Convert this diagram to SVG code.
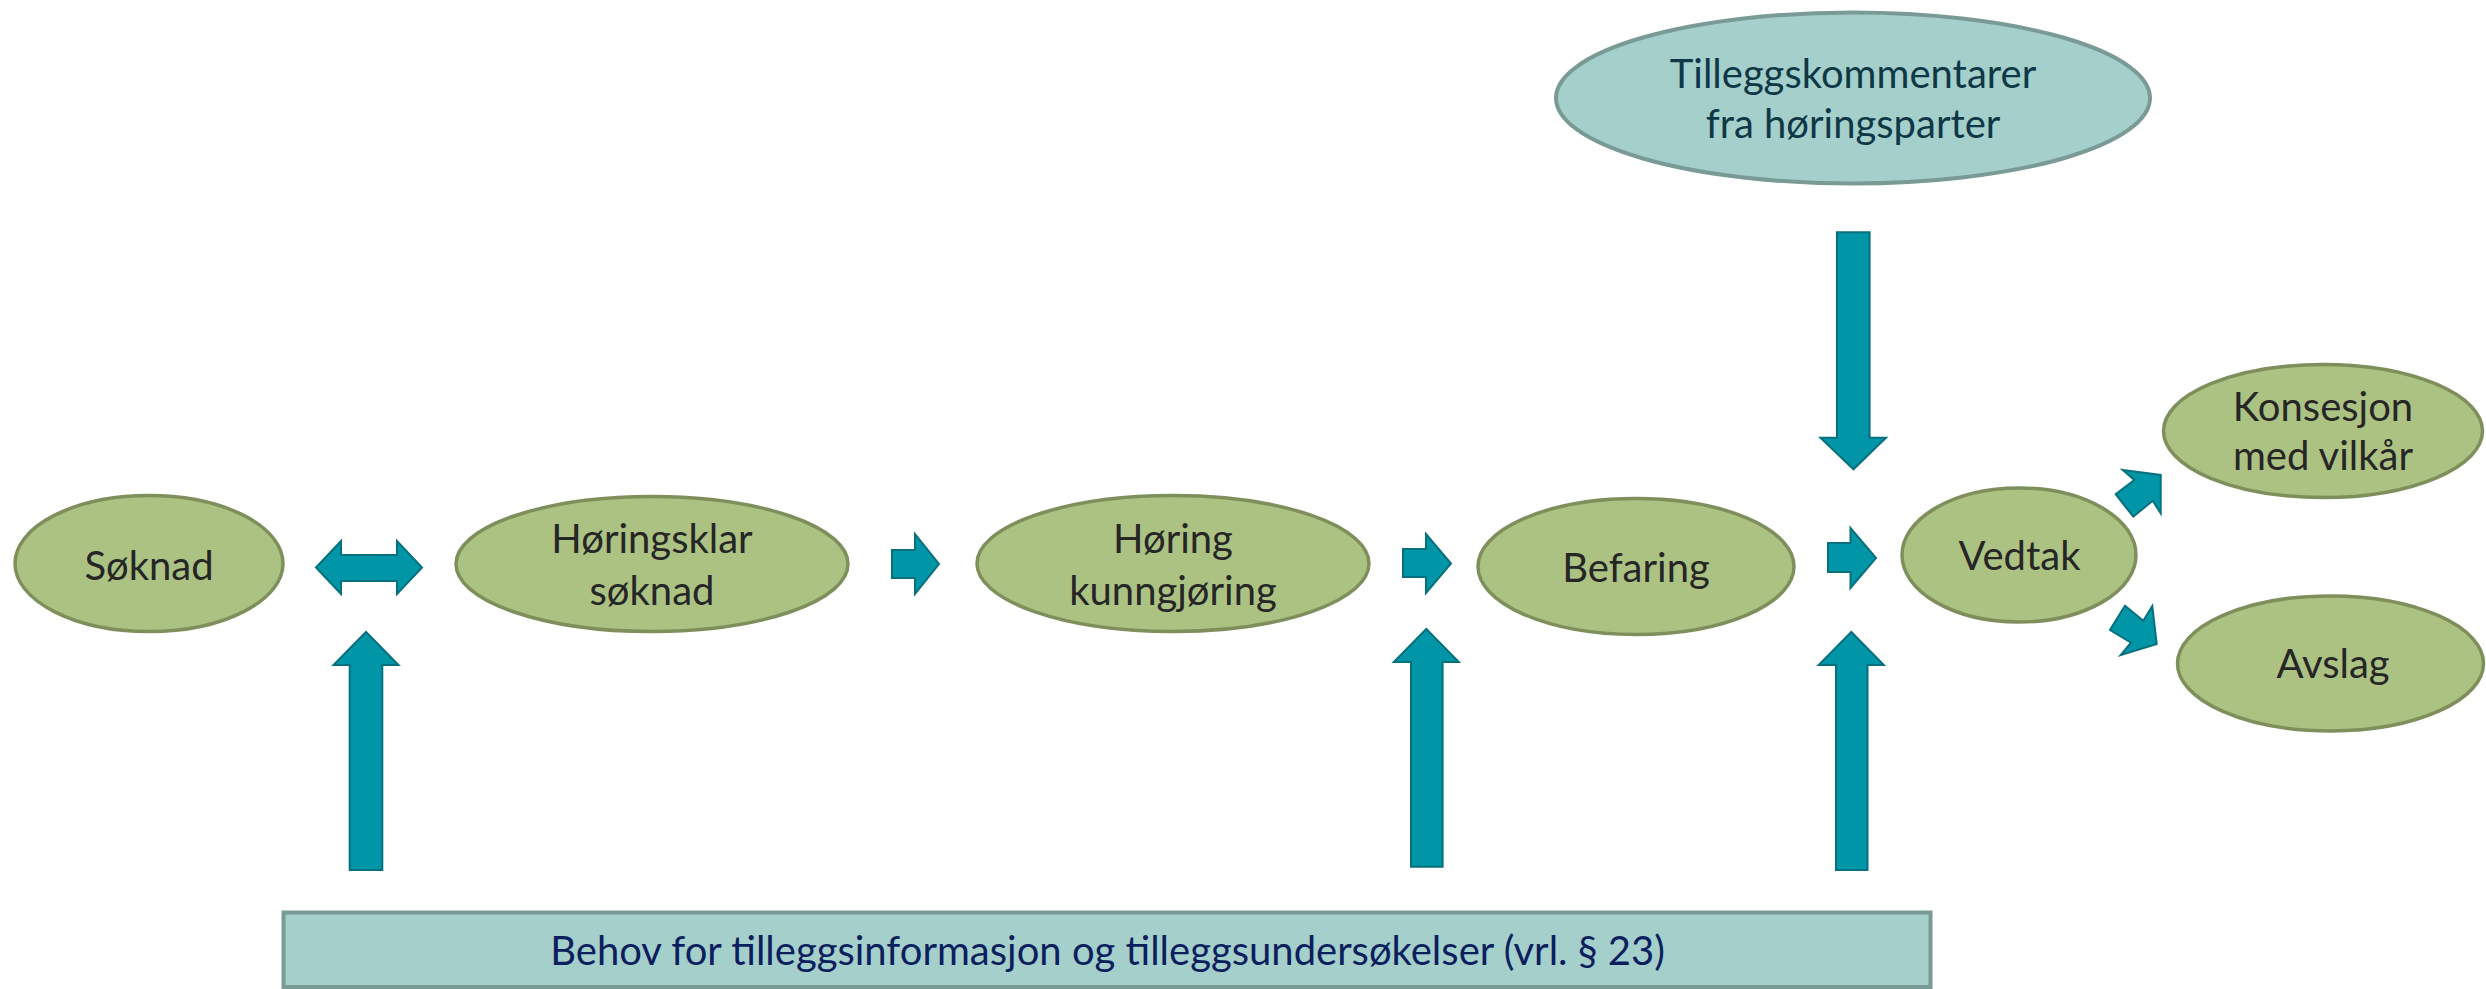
<svg xmlns="http://www.w3.org/2000/svg" width="2486" height="989" viewBox="0 0 2486 989">
<style>
.g{fill:#acc283;stroke:#7e8f5c;stroke-width:3.5}
.t{fill:#a5cfca;stroke:#799a95;stroke-width:4}
.lbl{font-family:Lato,"Open Sans",sans-serif;font-size:40px;text-anchor:middle;fill:#262626}
.tl{fill:#0e3846}
.bl{fill:#0b1f5e}
.arr{fill:#0096a8;stroke:#06707d;stroke-width:2;stroke-linejoin:miter}
</style>
<rect width="2486" height="989" fill="#ffffff"/>
<g id="connectors">
<polygon class="arr" points="316,567.5 341,541 341,555 397,555 397,541 422,567.5 397,594 397,581 341,581 341,594"/>
<polygon class="arr" points="892,550 915,550 915,534 939,564 915,594 915,578 892,578"/>
<polygon class="arr" points="1403,549 1426,549 1426,534 1451,563.5 1426,593 1426,577 1403,577"/>
<polygon class="arr" points="1828,543 1850.5,543 1850.5,528 1876,558 1850.5,588 1850.5,572 1828,572"/>
<polygon class="arr" points="349.7,870 349.7,665 333.5,665 366,632 398.5,665 382.3,665 382.3,870"/>
<polygon class="arr" points="1411,866.7 1411,662 1393.8,662 1426.3,629 1458.8,662 1442.6,662 1442.6,866.7"/>
<polygon class="arr" points="1836,870 1836,665 1818.7,665 1851.3,632 1883.8,665 1867.5,665 1867.5,870"/>
<polygon class="arr" points="1837,232.3 1869.6,232.3 1869.6,437.7 1886,437.7 1853.5,469.3 1820.5,437.7 1837,437.7"/>
<polygon class="arr" points="2122.7,470 2160.7,475 2160.7,513.3 2152.7,500.7 2133.3,516.7 2115.7,494.3 2134.3,480"/>
<polygon class="arr" points="2125,605.7 2143.3,620.7 2152.3,606 2156.7,644 2120.7,655 2131,642.7 2110,630"/>
</g>
<g id="soknad">
<ellipse class="g" cx="149" cy="563.5" rx="134" ry="68"/>
<text class="lbl" x="149" y="580">Søknad</text>
</g>
<g id="horingsklar">
<ellipse class="g" cx="652" cy="564" rx="196" ry="67.5"/>
<text class="lbl" x="652" y="553">Høringsklar</text>
<text class="lbl" x="652" y="605">søknad</text>
</g>
<g id="horing">
<ellipse class="g" cx="1173" cy="563.5" rx="196" ry="68"/>
<text class="lbl" x="1173" y="553">Høring</text>
<text class="lbl" x="1173" y="605">kunngjøring</text>
</g>
<g id="befaring">
<ellipse class="g" cx="1636" cy="566.5" rx="158" ry="68"/>
<text class="lbl" x="1636" y="582">Befaring</text>
</g>
<g id="vedtak">
<ellipse class="g" cx="2019" cy="555" rx="117" ry="67"/>
<text class="lbl" x="2019.5" y="570">Vedtak</text>
</g>
<g id="konsesjon">
<ellipse class="g" cx="2323" cy="431" rx="159.5" ry="66.5"/>
<text class="lbl" x="2323" y="421">Konsesjon</text>
<text class="lbl" x="2323" y="470">med vilkår</text>
</g>
<g id="avslag">
<ellipse class="g" cx="2330.5" cy="663.4" rx="153" ry="67.5"/>
<text class="lbl" x="2333" y="678">Avslag</text>
</g>
<g id="tilleggskommentarer">
<ellipse class="t" cx="1853" cy="98" rx="297" ry="85.5"/>
<text class="lbl tl" x="1853" y="88">Tilleggskommentarer</text>
<text class="lbl tl" x="1853" y="138">fra høringsparter</text>
</g>
<g id="behov">
<rect class="t" x="283.5" y="912.5" width="1647" height="74.5"/>
<text class="lbl bl" x="1107.6" y="965">Behov for tilleggsinformasjon og tilleggsundersøkelser (vrl. § 23)</text>
</g>
</svg>
